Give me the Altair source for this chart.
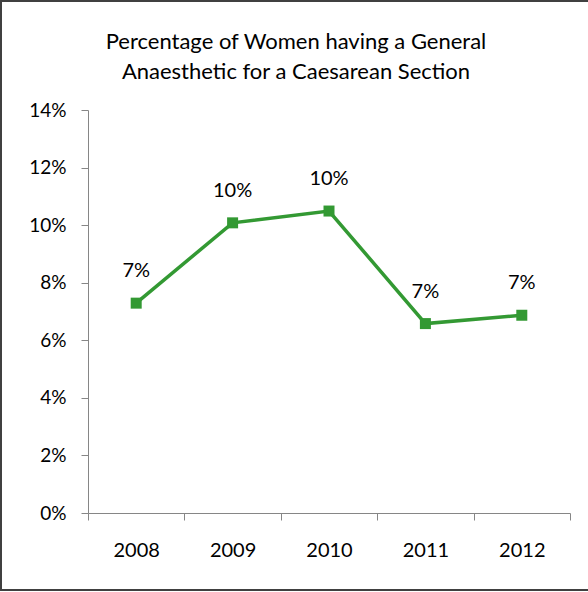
import altair as alt
import pandas as pd

# Share of caesarean sections performed under general anaesthetic
years = ["2008", "2009", "2010", "2011", "2012"]
rates = [0.0729, 0.1008, 0.1049, 0.0658, 0.0687]

title_lines = ["Percentage of Women having a General", "Anaesthetic for a Caesarean Section"]

df = pd.DataFrame({"year": years, "rate": rates})

FONT = "Lato"
GREEN = "#339933"
AXIS_GREY = "#868686"

W, H = 482, 403
PAD = {"left": 88, "top": 110, "right": 18, "bottom": 79}

x_enc = alt.X(
    "year:O",
    sort=years,
    scale=alt.Scale(type="band", paddingInner=0, paddingOuter=0),
    axis=alt.Axis(
        title=None,
        labelAngle=0,
        labelFont=FONT,
        labelFontSize=20,
        labelColor="black",
        labelPadding=20,
        tickBand="extent",
        tickSize=7,
        tickColor=AXIS_GREY,
        domainColor=AXIS_GREY,
        grid=False,
    ),
)
y_enc = alt.Y(
    "rate:Q",
    scale=alt.Scale(domain=[0, 0.14], nice=False),
    axis=alt.Axis(
        title=None,
        format=".0%",
        values=[0, 0.02, 0.04, 0.06, 0.08, 0.10, 0.12, 0.14],
        labelFont=FONT,
        labelFontSize=19,
        labelColor="black",
        labelPadding=15,
        tickSize=7,
        tickColor=AXIS_GREY,
        domainColor=AXIS_GREY,
        grid=False,
    ),
)

base = alt.Chart(df).encode(x=x_enc, y=y_enc)

line = base.mark_line(color=GREEN, strokeWidth=3.5)
points = base.mark_square(color=GREEN, size=121, opacity=1)
labels = base.mark_text(
    font=FONT, fontSize=20, color="black", dy=-32, baseline="middle"
).encode(text=alt.Text("rate:Q", format=".0%"))

# two-line heading, centred on the whole figure
heading = [
    alt.Chart(pd.DataFrame({"line": [txt]}))
    .mark_text(font=FONT, fontSize=22, color="black", align="center", baseline="middle")
    .encode(
        text="line:N",
        x=alt.value(296 - PAD["left"]),
        y=alt.value(-68 + 30 * i),
    )
    for i, txt in enumerate(title_lines)
]

# outer frame around the whole figure
frame = alt.Chart(df).mark_rect(
    fill=None, stroke="#404040", strokeWidth=1.5
).encode(
    x=alt.value(-PAD["left"] + 1),
    x2=alt.value(W + 40),
    y=alt.value(-PAD["top"] + 1),
    y2=alt.value(H + PAD["bottom"] - 2),
)

chart = (
    alt.layer(frame, line, points, labels, *heading)
    .properties(
        width=W,
        height=H,
        padding=PAD,
        autosize=alt.AutoSizeParams(type="none"),
        background="white",
    )
    .configure_view(stroke=None)
)

chart.save("out.html", embed_options={"renderer": "svg", "actions": False})
